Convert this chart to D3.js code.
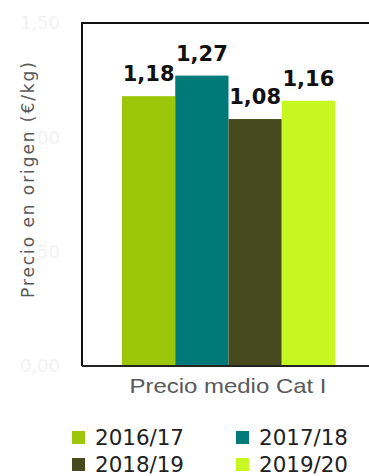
<!DOCTYPE html>
<html>
<head>
<meta charset="utf-8">
<script src="https://cdn.jsdelivr.net/npm/d3@7"></script>
<style>
  body { margin: 0; background: #fff; }
  svg { display: block; }
</style>
</head>
<body>
<div id="chart"></div>
<script>
// data
const category = "Precio medio Cat I";
const seasons = ["2016/17", "2017/18", "2018/19", "2019/20"];
const prices = [1.18, 1.27, 1.08, 1.16];
const colors = ["#9bc60a", "#007a78", "#474a1e", "#c6f721"];
const yTicks = [0, 0.5, 1, 1.5];

const width = 369;
const height = 476;
const marginTop = 23;
const marginLeft = 82;
const plotBottom = 366;

const fmt = (v) => d3.format(".2f")(v).replace(".", ",");

const svg = d3.select("#chart").append("svg")
  .attr("width", width)
  .attr("height", height);

const y = d3.scaleLinear().domain([0, 1.5]).range([plotBottom, marginTop]);
const x = d3.scaleBand().domain(seasons).range([122, 335]).padding(0);

// frame (right side runs off the picture)
svg.append("path")
  .attr("d", `M${width + 5},${marginTop}H${marginLeft}V${plotBottom}`)
  .attr("fill", "none")
  .attr("stroke", "#111")
  .attr("stroke-width", 2);

// faint y tick labels
svg.append("g")
  .selectAll("text")
  .data(yTicks)
  .join("text")
  .attr("x", 60)
  .attr("y", (d) => y(d))
  .attr("dy", "0.35em")
  .attr("text-anchor", "end")
  .attr("font-family", "DejaVu Sans, sans-serif")
  .attr("font-size", 18)
  .attr("fill", "#f2f2f2")
  .text(fmt);

// bars
svg.append("g")
  .selectAll("rect")
  .data(prices)
  .join("rect")
  .attr("x", (d, i) => x(seasons[i]))
  .attr("y", (d) => y(d))
  .attr("width", x.bandwidth())
  .attr("height", (d) => y(0) - y(d))
  .attr("fill", (d, i) => colors[i]);

// bottom axis line
svg.append("line")
  .attr("x1", marginLeft).attr("x2", width)
  .attr("y1", plotBottom).attr("y2", plotBottom)
  .attr("stroke", "#222").attr("stroke-width", 2);

// value labels
svg.append("g")
  .selectAll("text")
  .data(prices)
  .join("text")
  .attr("x", (d, i) => x(seasons[i]) + x.bandwidth() / 2)
  .attr("y", (d) => y(d) - 15)
  .attr("text-anchor", "middle")
  .attr("font-family", "DejaVu Sans, sans-serif")
  .attr("font-weight", "bold")
  .attr("font-size", 21)
  .attr("fill", "#111")
  .text(fmt);

// axis title
svg.append("text")
  .attr("transform", "translate(34,180) rotate(-90)")
  .attr("text-anchor", "middle")
  .attr("font-family", "DejaVu Sans, sans-serif")
  .attr("font-size", 17)
  .attr("textLength", 236)
  .attr("lengthAdjust", "spacing")
  .attr("fill", "#595959")
  .text("Precio en origen (€/kg)");

// category label
svg.append("text")
  .attr("x", 228)
  .attr("y", 393)
  .attr("text-anchor", "middle")
  .attr("font-family", "Liberation Sans, Arial, sans-serif")
  .attr("font-size", 21)
  .attr("textLength", 197)
  .attr("lengthAdjust", "spacingAndGlyphs")
  .attr("fill", "#595959")
  .text(category);

// legend
const legend = svg.append("g")
  .selectAll("g")
  .data(seasons)
  .join("g")
  .attr("transform", (d, i) => `translate(${i % 2 === 0 ? 72 : 236},${i < 2 ? 437 : 464})`);

legend.append("rect")
  .attr("x", 0).attr("y", -6)
  .attr("width", 13).attr("height", 13)
  .attr("fill", (d, i) => colors[i]);

legend.append("text")
  .attr("x", 23)
  .attr("y", 0)
  .attr("dy", "0.36em")
  .attr("font-family", "DejaVu Sans, sans-serif")
  .attr("font-size", 21)
  .attr("textLength", 89)
  .attr("lengthAdjust", "spacingAndGlyphs")
  .attr("fill", "#222")
  .text((d) => d);
</script>
</body>
</html>
